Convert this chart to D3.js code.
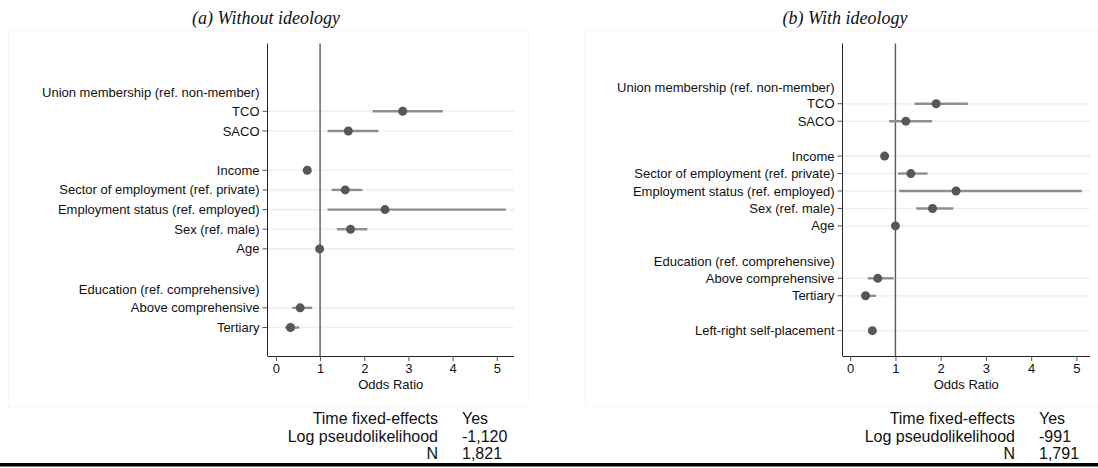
<!DOCTYPE html>
<html>
<head>
<meta charset="utf-8">
<script src="https://cdn.jsdelivr.net/npm/d3@7"></script>
<style>
  body { margin: 0; background: #fff; }
  svg text { font-family: "Liberation Sans", Arial, sans-serif; fill: #111; }
  .title { font-family: "Liberation Serif", "Times New Roman", serif; font-style: italic; font-size: 18px; }
</style>
</head>
<body>
<div id="chart"></div>
<script>
// Coefficient plot, two panels (odds ratios)

// Row labels
var labelsA = ["Union membership (ref. non-member)", "TCO", "SACO", "",
    "Income", "Sector of employment (ref. private)", "Employment status (ref. employed)",
    "Sex (ref. male)", "Age", "", "Education (ref. comprehensive)",
    "Above comprehensive", "Tertiary"];
var labelsB = labelsA.concat(["", "Left-right self-placement"]);

// Panel (a) estimates and confidence limits
var estA = [null, 2.87, 1.64, null, 0.71, 1.57, 2.47, 1.69, 0.99, null, null, 0.55, 0.33];
var loA  = [null, 2.19, 1.17, null, 0.66, 1.26, 1.17, 1.38, 0.98, null, null, 0.37, 0.21];
var hiA  = [null, 3.78, 2.32, null, 0.77, 1.96, 5.21, 2.07, 1.00, null, null, 0.82, 0.53];

// Panel (b)
var estB = [null, 1.90, 1.23, null, 0.76, 1.34, 2.34, 1.82, 1.00, null, null, 0.61, 0.34, null, 0.49];
var loB  = [null, 1.42, 0.86, null, 0.70, 1.06, 1.08, 1.46, 0.99, null, null, 0.39, 0.24, null, 0.44];
var hiB  = [null, 2.60, 1.81, null, 0.82, 1.71, 5.12, 2.28, 1.01, null, null, 0.96, 0.57, null, 0.55];

var xTicks = [0, 1, 2, 3, 4, 5];

// Model statistics under each panel
var statLabels = ["Time fixed-effects", "Log pseudolikelihood", "N"];
var statsA = ["Yes", "-1,120", "1,821"];
var statsB = ["Yes", "-991", "1,791"];

var width = 1098, height = 468;
var svg = d3.select("#chart").append("svg")
    .attr("width", width)
    .attr("height", height);

var plotTop = 43.5, plotBottom = 356;

function drawPanel(cfg) {
    var g = svg.append("g");

    // faint plot region border
    g.append("rect")
        .attr("x", cfg.boxL).attr("y", 30.5)
        .attr("width", cfg.boxR - cfg.boxL).attr("height", 376)
        .attr("fill", "none")
        .attr("stroke", "#f6f6f6");

    g.append("text")
        .attr("class", "title")
        .attr("x", cfg.titleX).attr("y", 24)
        .attr("text-anchor", "middle")
        .text(cfg.title);

    var n = cfg.labels.length;
    var x = d3.scaleLinear().domain(cfg.xDomain).range([cfg.axisL, cfg.axisR]);
    var y = d3.scaleLinear().domain([-2.45, n - 1 + 1.45]).range([plotTop, plotBottom]);

    var rows = cfg.labels.map(function(l, i) {
        return { label: l, i: i, est: cfg.est[i], lo: cfg.lo[i], hi: cfg.hi[i] };
    });
    var coefRows = rows.filter(function(d) { return d.est != null; });

    // grid lines
    g.selectAll(".grid").data(coefRows).enter().append("line")
        .attr("x1", cfg.axisL).attr("x2", cfg.axisR)
        .attr("y1", function(d) { return y(d.i); })
        .attr("y2", function(d) { return y(d.i); })
        .attr("stroke", "#efefef")
        .attr("stroke-width", 1.6);

    // reference line at 1
    g.append("line")
        .attr("x1", x(1)).attr("x2", x(1))
        .attr("y1", plotTop).attr("y2", plotBottom)
        .attr("stroke", "#5a5a5a")
        .attr("stroke-width", 1.4);

    // y axis with ticks only on coefficient rows
    g.append("line")
        .attr("x1", cfg.axisL).attr("x2", cfg.axisL)
        .attr("y1", plotTop).attr("y2", plotBottom)
        .attr("stroke", "#222");
    g.selectAll(".ytick").data(coefRows).enter().append("line")
        .attr("x1", cfg.axisL - 5).attr("x2", cfg.axisL)
        .attr("y1", function(d) { return y(d.i); })
        .attr("y2", function(d) { return y(d.i); })
        .attr("stroke", "#555");
    g.selectAll(".ylab").data(rows.filter(function(d) { return d.label; })).enter().append("text")
        .attr("x", cfg.axisL - 8)
        .attr("y", function(d) { return y(d.i) + (d.est == null ? 1 : 0); })
        .attr("dy", "0.35em")
        .attr("text-anchor", "end")
        .attr("font-size", "13px")
        .text(function(d) { return d.label; });

    // x axis
    var xAxis = d3.axisBottom(x).tickValues(xTicks).tickSize(5).tickPadding(3)
        .tickFormat(d3.format("d"));
    var ax = g.append("g")
        .attr("transform", "translate(0," + plotBottom + ")")
        .call(xAxis);
    ax.select(".domain").attr("d", "M" + cfg.axisL + ",0.5H" + cfg.axisR).attr("stroke", "#222");
    ax.selectAll(".tick line").attr("stroke", "#555");
    ax.selectAll(".tick text")
        .attr("font-family", "Liberation Sans, Arial, sans-serif")
        .attr("font-size", "13px").attr("fill", "#111");

    g.append("text")
        .attr("x", (cfg.axisL + cfg.axisR) / 2).attr("y", 389)
        .attr("text-anchor", "middle")
        .attr("font-size", "13px")
        .text("Odds Ratio");

    // confidence intervals
    g.selectAll(".ci").data(coefRows).enter().append("line")
        .attr("x1", function(d) { return x(d.lo); })
        .attr("x2", function(d) { return x(d.hi); })
        .attr("y1", function(d) { return y(d.i); })
        .attr("y2", function(d) { return y(d.i); })
        .attr("stroke", "#8e8e8e")
        .attr("stroke-width", 2.4);

    // point estimates
    g.selectAll(".pt").data(coefRows).enter().append("circle")
        .attr("cx", function(d) { return x(d.est); })
        .attr("cy", function(d) { return y(d.i); })
        .attr("r", 4.5)
        .attr("fill", "#575757");

    // statistics block
    var st = g.append("g").attr("font-size", "16px");
    st.selectAll(".slab").data(statLabels).enter().append("text")
        .attr("x", cfg.statX).attr("y", function(d, i) { return 424 + i * 17.6; })
        .attr("text-anchor", "end")
        .text(function(d) { return d; });
    st.selectAll(".sval").data(cfg.stats).enter().append("text")
        .attr("x", cfg.statX + 24).attr("y", function(d, i) { return 424 + i * 17.6; })
        .text(function(d) { return d; });
}

drawPanel({
    title: "(a) Without ideology", titleX: 266,
    boxL: 8.5, boxR: 528,
    axisL: 267.5, axisR: 514, xDomain: [-0.19, 5.39],
    labels: labelsA, est: estA, lo: loA, hi: hiA,
    statX: 438, stats: statsA
});

drawPanel({
    title: "(b) With ideology", titleX: 845,
    boxL: 585, boxR: 1110,
    axisL: 842.5, axisR: 1090, xDomain: [-0.17, 5.3],
    labels: labelsB, est: estB, lo: loB, hi: hiB,
    statX: 1015, stats: statsB
});

// rule under the figure
svg.append("rect")
    .attr("x", 0).attr("y", 463)
    .attr("width", width).attr("height", 3.5)
    .attr("fill", "#000");
</script>
</body>
</html>
